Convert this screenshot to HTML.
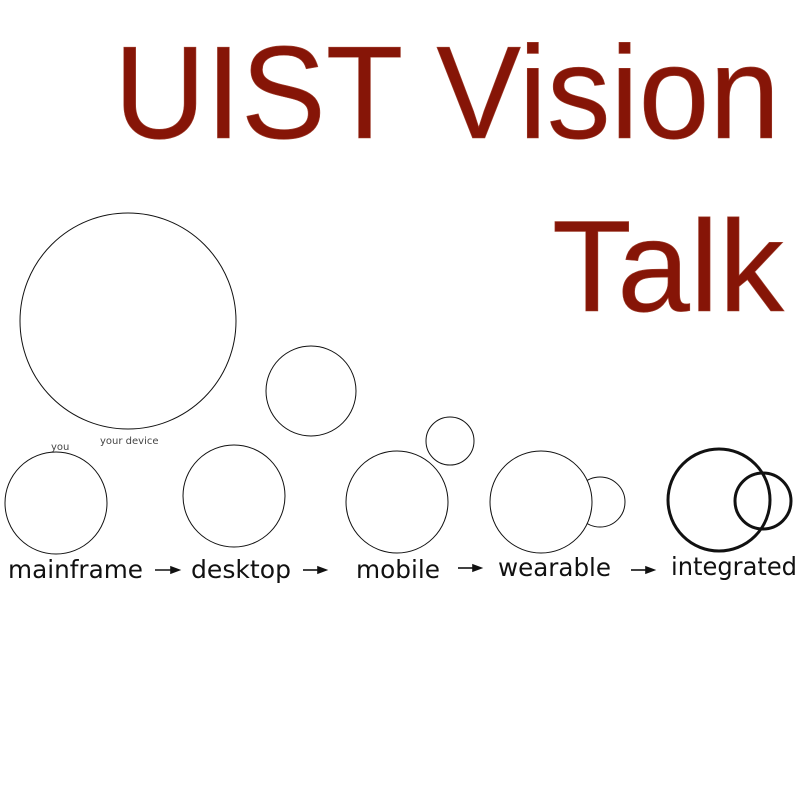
<!DOCTYPE html>
<html><head><meta charset="utf-8"><style>html,body{margin:0;padding:0;background:#fff}svg{display:block}</style></head>
<body>
<svg width="800" height="800" viewBox="0 0 800 800" xmlns="http://www.w3.org/2000/svg">
<g font-family="Liberation Sans, Arial, sans-serif" fill="#861507" stroke="#a0402f" stroke-width="0.6">
<text x="114" y="138" font-size="132" textLength="666" lengthAdjust="spacingAndGlyphs">UIST Vision</text>
<text x="552" y="311" font-size="130" textLength="232" lengthAdjust="spacingAndGlyphs">Talk</text>
</g>
<g fill="none" stroke="#111" stroke-width="1">
<circle cx="128" cy="321" r="108"/>
<circle cx="311" cy="391" r="45"/>
<circle cx="450" cy="441" r="24"/>
<circle cx="56" cy="503" r="51"/>
<circle cx="234" cy="496" r="51"/>
<circle cx="397" cy="502" r="51"/>
<circle cx="600" cy="502" r="25"/>
<circle cx="541" cy="502" r="51" fill="#fff"/>
</g>
<g fill="none" stroke="#111" stroke-width="3">
<circle cx="719" cy="500" r="51"/>
<circle cx="763" cy="501" r="28"/>
</g>
<g font-family="DejaVu Sans, sans-serif" fill="#444" font-size="10">
<text x="51" y="450">you</text>
<text x="100" y="444">your device</text>
</g>
<g font-family="DejaVu Sans, Liberation Sans, sans-serif" fill="#111" font-size="25">
<text x="8" y="578" textLength="135" lengthAdjust="spacingAndGlyphs">mainframe</text>
<text x="191" y="578" textLength="100" lengthAdjust="spacingAndGlyphs">desktop</text>
<text x="356" y="578" textLength="84" lengthAdjust="spacingAndGlyphs">mobile</text>
<text x="498" y="576" textLength="113" lengthAdjust="spacingAndGlyphs">wearable</text>
<text x="671" y="575" textLength="126" lengthAdjust="spacingAndGlyphs">integrated</text>
</g>
<g stroke="#111" stroke-width="1.6" fill="#111">
<line x1="155" y1="570" x2="172" y2="570"/><polygon points="179,570 171,567 171,573"/>
<line x1="303" y1="570" x2="319" y2="570"/><polygon points="326,570 318,567 318,573"/>
<line x1="458" y1="568" x2="474" y2="568"/><polygon points="481,568 473,565 473,571"/>
<line x1="631" y1="570" x2="647" y2="570"/><polygon points="654,570 646,567 646,573"/>
</g>
</svg>
</body></html>
